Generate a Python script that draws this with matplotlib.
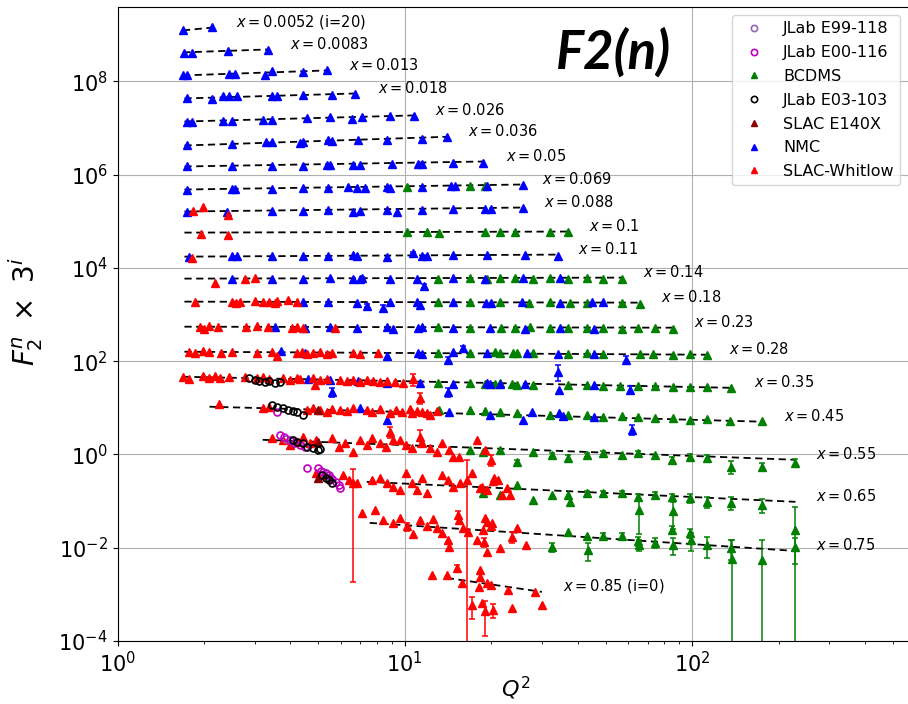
import numpy as np
import matplotlib
matplotlib.use("Agg")
import matplotlib.pyplot as plt
from matplotlib.lines import Line2D
from matplotlib.ticker import NullLocator

# bins in x, i = 0 .. 20 ; every bin is shifted by 3**i
x_bins = [0.85, 0.75, 0.65, 0.55, 0.45, 0.35, 0.28, 0.23, 0.18, 0.14, 0.11,
          0.1, 0.088, 0.069, 0.05, 0.036, 0.026, 0.018, 0.013, 0.0083, 0.0052]

# dashed curves: Q2 range and F2 at both ends (i = 0 .. 20)
fit_q2_lo = [14.0, 7.55, 7.37, 3.2, 2.09, 1.685, 1.71, 1.71, 1.71, 1.71, 1.71,
             1.71, 1.71, 1.71, 1.71, 1.71, 1.71, 1.71, 1.69, 1.69, 1.69]
fit_q2_hi = [30.0, 229, 229, 229, 177, 139, 114, 86, 66, 57, 34,
             37, 25.8, 25.5, 19.0, 14.0, 10.8, 6.8, 5.39, 3.38, 2.18]
fit_f2_lo = [0.00225, 0.01135, 0.0287, 0.0762, 0.130, 0.190, 0.218, 0.250, 0.287, 0.298, 0.294,
             0.321, 0.303, 0.299, 0.311, 0.292, 0.318, 0.331, 0.344, 0.357, 0.353]
fit_f2_hi = [0.00113, 0.00284, 0.0107, 0.0284, 0.062, 0.110, 0.188, 0.238, 0.273, 0.313, 0.325,
             0.338, 0.369, 0.383, 0.398, 0.449, 0.43, 0.424, 0.44, 0.414, 0.41]

# data rows: (i, Q2, F2) or (i, Q2, F2, dF2)
nmc = [
    (20, 1.69, 0.353), (20, 2.14, 0.41),
    (19, 1.71, 0.34), (19, 1.81, 0.34), (19, 2.42, 0.375), (19, 3.33, 0.394),
    (18, 1.69, 0.344), (18, 1.74, 0.344), (18, 2.45, 0.361), (18, 2.56, 0.361), (18, 3.25, 0.344),
    (18, 3.46, 0.418), (18, 4.41, 0.398), (18, 5.34, 0.439),
    (17, 1.75, 0.331), (17, 2.14, 0.316), (17, 2.32, 0.365), (17, 2.45, 0.365), (17, 2.6, 0.365),
    (17, 3.46, 0.365), (17, 3.6, 0.365), (17, 4.41, 0.402), (17, 5.56, 0.383), (17, 6.7, 0.422),
    (16, 1.75, 0.318), (16, 1.81, 0.318), (16, 2.32, 0.334), (16, 2.5, 0.334), (16, 3.2, 0.351),
    (16, 3.44, 0.351), (16, 4.55, 0.387), (16, 5.48, 0.406), (16, 6.55, 0.368), (16, 7.1, 0.406),
    (16, 8.86, 0.426), (16, 10.8, 0.426),
    (15, 1.75, 0.292), (15, 2.5, 0.321), (15, 3.3, 0.353), (15, 3.46, 0.353), (15, 4.31, 0.337),
    (15, 4.41, 0.353), (15, 5.4, 0.389), (15, 5.56, 0.371), (15, 6.85, 0.389), (15, 8.7, 0.389),
    (15, 11.5, 0.408), (15, 14.0, 0.449),
    (14, 1.75, 0.311), (14, 2.5, 0.311), (14, 3.46, 0.326), (14, 4.41, 0.326), (14, 5.34, 0.342),
    (14, 5.48, 0.342), (14, 6.6, 0.342), (14, 6.97, 0.342), (14, 9.0, 0.359), (14, 11.1, 0.359),
    (14, 11.5, 0.359), (14, 14.7, 0.377), (14, 18.7, 0.377),
    (13, 1.75, 0.299), (13, 2.5, 0.314), (13, 2.56, 0.314), (13, 3.46, 0.314), (13, 4.41, 0.33),
    (13, 5.4, 0.33), (13, 6.34, 0.346), (13, 6.8, 0.33), (13, 7.25, 0.33), (13, 8.7, 0.346),
    (13, 8.86, 0.33), (13, 11.5, 0.346), (13, 14.5, 0.363), (13, 14.9, 0.363), (13, 19.4, 0.363),
    (13, 25.7, 0.381),
    (12, 1.75, 0.303), (12, 2.4, 0.303), (12, 3.46, 0.318), (12, 4.41, 0.318), (12, 5.4, 0.334),
    (12, 6.6, 0.303), (12, 6.97, 0.318), (12, 8.7, 0.334), (12, 9.4, 0.303), (12, 11.5, 0.334),
    (12, 14.7, 0.35), (12, 19.0, 0.35), (12, 20.0, 0.35), (12, 25.7, 0.369),
    (10, 1.78, 0.294), (10, 2.5, 0.309), (10, 2.6, 0.309), (10, 3.46, 0.309), (10, 4.41, 0.309),
    (10, 5.4, 0.309), (10, 6.6, 0.325), (10, 6.8, 0.309), (10, 8.7, 0.294), (10, 10.7, 0.358, 0.02),
    (10, 11.5, 0.309), (10, 11.9, 0.309), (10, 14.7, 0.325), (10, 19.4, 0.325), (10, 26.2, 0.325),
    (10, 34.2, 0.309),
    (9, 2.5, 0.298), (9, 3.46, 0.298), (9, 4.41, 0.298), (9, 5.48, 0.313), (9, 6.6, 0.298),
    (9, 6.97, 0.298), (9, 7.1, 0.313, 0.015), (9, 8.86, 0.298), (9, 11.0, 0.298), (9, 11.7, 0.21, 0.02),
    (9, 14.7, 0.313), (9, 19.0, 0.298), (9, 25.7, 0.313), (9, 34.7, 0.313),
    (8, 4.41, 0.287), (8, 5.4, 0.287), (8, 6.8, 0.273), (8, 7.4, 0.236, 0.02), (8, 8.4, 0.213, 0.025),
    (8, 8.86, 0.287), (8, 11.0, 0.287), (8, 11.3, 0.248), (8, 14.7, 0.287), (8, 19.2, 0.273),
    (8, 20.0, 0.273), (8, 25.5, 0.287), (8, 34.7, 0.273), (8, 45.0, 0.287), (8, 49.0, 0.287),
    (7, 3.53, 0.25), (7, 4.48, 0.238), (7, 5.48, 0.25), (7, 6.8, 0.238), (7, 8.7, 0.25),
    (7, 9.07, 0.227), (7, 11.1, 0.238), (7, 11.5, 0.25), (7, 14.7, 0.238), (7, 19.8, 0.238),
    (7, 26.2, 0.227), (7, 34.7, 0.238), (7, 45.7, 0.227),
    (6, 3.72, 0.229), (6, 4.48, 0.208), (6, 8.7, 0.179), (6, 11.1, 0.208), (6, 11.5, 0.198),
    (6, 14.1, 0.147, 0.02), (6, 14.7, 0.218), (6, 15.9, 0.266, 0.03), (6, 19.4, 0.208),
    (6, 26.6, 0.208), (6, 34.0, 0.198), (6, 45.7, 0.198), (6, 59.0, 0.147, 0.03),
    (5, 4.59, 0.172), (5, 5.48, 0.164), (5, 5.6, 0.0906, 0.02), (5, 6.85, 0.157), (5, 8.7, 0.142),
    (5, 11.3, 0.142), (5, 14.1, 0.09, 0.02), (5, 14.7, 0.135), (5, 19.4, 0.142), (5, 19.8, 0.135),
    (5, 21.4, 0.135), (5, 26.2, 0.135), (5, 34.0, 0.244, 0.09), (5, 34.5, 0.10), (5, 45.7, 0.129),
    (5, 60.8, 0.10, 0.02),
    (4, 6.97, 0.124), (4, 8.7, 0.068), (4, 14.3, 0.101), (4, 19.8, 0.0875), (4, 25.7, 0.068),
    (4, 27.7, 0.101), (4, 34.5, 0.096), (4, 35.5, 0.082), (4, 45.7, 0.078), (4, 61.6, 0.0417, 0.01),
]

slac_whitlow = [
    (12, 1.83, 0.318), (12, 1.98, 0.386), (12, 2.42, 0.249),
    (11, 1.96, 0.293), (11, 2.42, 0.279),
    (10, 1.82, 0.28),
    (9, 2.18, 0.245), (9, 2.77, 0.298), (9, 3.0, 0.313),
    (8, 1.86, 0.287), (8, 2.5, 0.287), (8, 2.58, 0.273), (8, 2.66, 0.287), (8, 3.0, 0.301),
    (8, 3.2, 0.287), (8, 3.38, 0.287), (8, 3.53, 0.273), (8, 3.6, 0.301), (8, 3.91, 0.316), (8, 4.2, 0.287),
    (7, 1.93, 0.25), (7, 2.0, 0.227), (7, 2.09, 0.263), (7, 2.23, 0.25), (7, 2.81, 0.25),
    (7, 3.07, 0.263), (7, 3.33, 0.25), (7, 4.04, 0.238), (7, 4.2, 0.25), (7, 4.41, 0.238), (7, 5.7, 0.238),
    (6, 1.78, 0.218), (6, 1.86, 0.208), (6, 1.98, 0.229), (6, 2.09, 0.218), (6, 2.3, 0.208),
    (6, 2.5, 0.218), (6, 3.07, 0.208), (6, 3.46, 0.218), (6, 3.6, 0.179), (6, 4.2, 0.208),
    (6, 4.38, 0.218), (6, 4.55, 0.198), (6, 4.78, 0.208), (6, 5.06, 0.218), (6, 5.34, 0.198),
    (6, 5.6, 0.208), (6, 6.6, 0.208), (6, 6.97, 0.198), (6, 8.04, 0.208),
    (5, 1.685, 0.19), (5, 1.78, 0.172), (5, 1.98, 0.2), (5, 2.09, 0.181), (5, 2.18, 0.2),
    (5, 2.27, 0.181), (5, 2.45, 0.19), (5, 2.77, 0.19), (5, 3.05, 0.181), (5, 3.2, 0.19),
    (5, 3.38, 0.172), (5, 3.76, 0.181), (5, 3.97, 0.164), (5, 4.2, 0.181), (5, 4.31, 0.172),
    (5, 4.78, 0.181), (5, 4.86, 0.129, 0.02), (5, 5.06, 0.164), (5, 5.35, 0.172), (5, 5.94, 0.164),
    (5, 6.28, 0.157), (5, 6.59, 0.164), (5, 6.97, 0.149), (5, 7.37, 0.164), (5, 7.74, 0.157),
    (5, 8.18, 0.149), (5, 8.66, 0.157), (5, 9.23, 0.149), (5, 9.85, 0.142), (5, 10.66, 0.172, 0.05),
    (4, 2.26, 0.15), (4, 3.2, 0.124), (4, 3.38, 0.13), (4, 4.55, 0.112), (4, 4.78, 0.124),
    (4, 5.06, 0.112), (4, 5.34, 0.101), (4, 5.6, 0.118), (4, 5.94, 0.112), (4, 6.3, 0.106),
    (4, 6.6, 0.124), (4, 7.37, 0.112), (4, 7.7, 0.101), (4, 8.18, 0.118), (4, 8.86, 0.093),
    (4, 9.35, 0.112), (4, 9.8, 0.101), (4, 10.4, 0.118), (4, 10.6, 0.093), (4, 11.0, 0.106),
    (4, 11.3, 0.2, 0.05), (4, 11.5, 0.101), (4, 11.9, 0.096), (4, 12.2, 0.0875), (4, 12.9, 0.106),
    (3, 3.44, 0.084), (3, 3.76, 0.0762), (3, 3.97, 0.0596), (3, 4.2, 0.069), (3, 4.41, 0.0885),
    (3, 4.67, 0.0658), (3, 4.9, 0.0762), (3, 5.6, 0.084), (3, 5.9, 0.054), (3, 6.2, 0.065),
    (3, 6.6, 0.0422), (3, 6.97, 0.0762), (3, 7.37, 0.0596), (3, 7.7, 0.084), (3, 8.18, 0.0658),
    (3, 8.6, 0.054), (3, 8.86, 0.113, 0.03), (3, 9.1, 0.0762), (3, 9.6, 0.0762), (3, 10.1, 0.0596),
    (3, 10.6, 0.0515), (3, 11.3, 0.0885, 0.035), (3, 11.5, 0.066), (3, 12.2, 0.0515), (3, 12.9, 0.0422),
    (3, 13.5, 0.066), (3, 14.3, 0.0466), (3, 14.7, 0.0329), (3, 15.5, 0.0329), (3, 17.8, 0.0762),
    (3, 19.0, 0.0466), (3, 20.0, 0.0284, 0.008),
    (2, 4.9, 0.0448), (2, 5.2, 0.0405), (2, 5.5, 0.035), (2, 6.1, 0.0405), (2, 6.4, 0.0317),
    (2, 6.6, 0.0265, 0.0263), (2, 6.8, 0.0274), (2, 7.7, 0.0317), (2, 8.2, 0.035), (2, 8.7, 0.0274),
    (2, 9.1, 0.0224), (2, 9.6, 0.0193), (2, 10.1, 0.0448), (2, 10.6, 0.0274), (2, 11.0, 0.0193),
    (2, 11.5, 0.035), (2, 11.9, 0.0167), (2, 13.5, 0.0405), (2, 14.1, 0.0317), (2, 14.7, 0.0224),
    (2, 15.6, 0.0274), (2, 16.5, 0.0317, 0.053), (2, 17.2, 0.0448), (2, 18.2, 0.0215), (2, 18.5, 0.0227),
    (2, 19.3, 0.0193), (2, 20.3, 0.03), (2, 20.5, 0.035), (2, 21.1, 0.0317), (2, 21.8, 0.0151),
    (2, 22.6, 0.0213), (2, 23.2, 0.0151),
    (1, 7.1, 0.0186), (1, 7.85, 0.0216), (1, 8.4, 0.0132), (1, 9.1, 0.0115), (1, 9.6, 0.0145),
    (1, 10.2, 0.0095, 0.002), (1, 10.7, 0.0065), (1, 11.3, 0.0132), (1, 11.9, 0.0095), (1, 12.5, 0.014),
    (1, 12.9, 0.009), (1, 13.5, 0.0068), (1, 14.1, 0.0049), (1, 14.3, 0.0035), (1, 15.3, 0.017, 0.003),
    (1, 15.4, 0.013), (1, 15.9, 0.0089), (1, 16.6, 0.0073), (1, 17.8, 0.0049), (1, 18.7, 0.008),
    (1, 18.8, 0.0045, 0.001), (1, 19.0, 0.0145), (1, 19.3, 0.0027), (1, 19.4, 0.0117), (1, 20.0, 0.0095),
    (1, 20.1, 0.0113), (1, 21.4, 0.0033), (1, 23.6, 0.0057, 0.0015), (1, 24.5, 0.0089), (1, 26.4, 0.0038),
    (0, 12.4, 0.0026), (0, 14.0, 0.0026), (0, 15.2, 0.0037, 0.0005), (0, 15.8, 0.00176),
    (0, 17.1, 0.00059, 0.0003), (0, 18.2, 0.0033), (0, 18.3, 0.0024), (0, 18.1, 0.00144),
    (0, 18.5, 0.00065), (0, 19.0, 0.00043, 0.0003), (0, 19.3, 0.00176), (0, 20.0, 0.0016),
    (0, 20.2, 0.00046, 0.00015), (0, 22.9, 0.00124), (0, 23.7, 0.00051), (0, 28.3, 0.00113),
    (0, 30.0, 0.00059),
]

bcdms = [
    (13, 10.2, 0.346), (13, 16.8, 0.363), (13, 19.0, 0.363),
    (11, 10.2, 0.338), (11, 11.9, 0.338), (11, 13.2, 0.321), (11, 19.0, 0.338), (11, 21.4, 0.338),
    (11, 24.2, 0.338), (11, 32.0, 0.338), (11, 37.0, 0.338),
    (9, 13.0, 0.298), (9, 16.8, 0.313), (9, 19.4, 0.298), (9, 21.4, 0.313), (9, 24.2, 0.313),
    (9, 28.0, 0.298), (9, 32.0, 0.313), (9, 37.0, 0.298), (9, 43.0, 0.313), (9, 49.0, 0.298), (9, 57.0, 0.298),
    (8, 13.0, 0.287), (8, 16.8, 0.287), (8, 21.4, 0.287), (8, 27.0, 0.273), (8, 32.0, 0.287),
    (8, 37.6, 0.273), (8, 43.0, 0.273), (8, 57.0, 0.273), (8, 66.0, 0.26),
    (7, 13.0, 0.25), (7, 16.8, 0.238), (7, 21.7, 0.238), (7, 24.2, 0.238), (7, 27.2, 0.25),
    (7, 32.0, 0.238), (7, 37.0, 0.238), (7, 43.0, 0.238), (7, 49.0, 0.238), (7, 57.0, 0.227),
    (7, 65.0, 0.238), (7, 74.0, 0.238), (7, 86.0, 0.227),
    (6, 13.0, 0.208), (6, 16.8, 0.208), (6, 20.6, 0.218), (6, 21.4, 0.208), (6, 23.8, 0.208),
    (6, 24.6, 0.208), (6, 28.0, 0.208), (6, 37.0, 0.198), (6, 43.0, 0.208), (6, 49.0, 0.198),
    (6, 66.0, 0.198), (6, 73.0, 0.198), (6, 86.0, 0.188), (6, 98.0, 0.198), (6, 113.0, 0.188),
    (5, 13.0, 0.142), (5, 16.8, 0.142), (5, 19.0, 0.135), (5, 20.6, 0.135), (5, 21.4, 0.142),
    (5, 23.7, 0.135), (5, 24.5, 0.129), (5, 28.0, 0.129), (5, 37.0, 0.129), (5, 43.0, 0.129),
    (5, 49.0, 0.122), (5, 56.0, 0.122), (5, 65.0, 0.122), (5, 74.0, 0.122), (5, 86.0, 0.116),
    (5, 98.0, 0.116), (5, 113.0, 0.116), (5, 137.0, 0.11),
    (4, 13.2, 0.112), (4, 16.8, 0.112), (4, 19.0, 0.106), (4, 21.4, 0.101), (4, 24.5, 0.096),
    (4, 32.0, 0.0875), (4, 37.0, 0.0875), (4, 43.0, 0.0875), (4, 49.0, 0.078), (4, 57.0, 0.082),
    (4, 65.0, 0.078), (4, 74.0, 0.0753), (4, 86.0, 0.0753), (4, 98.0, 0.068), (4, 113.0, 0.072),
    (4, 136.0, 0.065), (4, 175.0, 0.065),
    (3, 16.8, 0.0466), (3, 18.7, 0.0422), (3, 21.4, 0.0466), (3, 24.5, 0.0257, 0.003), (3, 28.0, 0.0422),
    (3, 32.5, 0.0363, 0.004), (3, 37.0, 0.0313, 0.004), (3, 43.0, 0.0363, 0.004), (3, 49.0, 0.0401, 0.004),
    (3, 57.0, 0.0363), (3, 65.0, 0.0401, 0.004), (3, 74.0, 0.0363), (3, 85.0, 0.0284, 0.004),
    (3, 98.0, 0.0329, 0.004), (3, 113.0, 0.0313, 0.004), (3, 137.0, 0.0201, 0.006),
    (3, 175.0, 0.0201, 0.004), (3, 229.0, 0.0245, 0.005),
    (2, 18.7, 0.0167), (2, 21.4, 0.0151), (2, 24.5, 0.0248), (2, 28.0, 0.0118), (2, 32.5, 0.0151),
    (2, 37.0, 0.0151), (2, 37.5, 0.0107), (2, 43.0, 0.0167, 0.002), (2, 49.0, 0.0167, 0.002),
    (2, 57.0, 0.0167, 0.002), (2, 65.0, 0.0137, 0.002), (2, 65.5, 0.0072, 0.005), (2, 74.0, 0.0151, 0.002),
    (2, 85.0, 0.0137, 0.002), (2, 86.0, 0.0068, 0.004), (2, 98.0, 0.0130, 0.003), (2, 113.0, 0.0107, 0.003),
    (2, 137.0, 0.0103, 0.003), (2, 175.0, 0.0092, 0.003), (2, 229.0, 0.0027, 0.0055),
    (1, 32.5, 0.0035, 0.0008), (1, 37.0, 0.0073), (1, 43.0, 0.0058), (1, 43.5, 0.003, 0.0013),
    (1, 49.0, 0.006, 0.001), (1, 57.0, 0.006, 0.001), (1, 65.0, 0.0047, 0.001), (1, 65.5, 0.0038, 0.001),
    (1, 74.0, 0.0043, 0.001), (1, 85.0, 0.008, 0.0015), (1, 86.0, 0.0038, 0.0015), (1, 98.0, 0.007, 0.0015),
    (1, 99.0, 0.0049, 0.002), (1, 113.0, 0.0038, 0.0018), (1, 137.0, 0.0033, 0.0015),
    (1, 137.5, 0.0019, 0.003), (1, 175.0, 0.0018, 0.003), (1, 229.0, 0.0035, 0.002),
]

slac_e140x = [(4, 5.0, 0.112), (3, 5.0, 0.068), (2, 5.0, 0.035)]

jlab_e03103 = [
    (5, 2.88, 0.181), (5, 3.0, 0.164), (5, 3.12, 0.157), (5, 3.25, 0.149), (5, 3.38, 0.157),
    (5, 3.52, 0.142), (5, 3.67, 0.149),
    (4, 3.46, 0.143), (4, 3.6, 0.13), (4, 3.76, 0.124), (4, 3.91, 0.112), (4, 4.07, 0.106),
    (4, 4.2, 0.101), (4, 4.41, 0.0875),
    (3, 4.07, 0.0762), (3, 4.2, 0.069), (3, 4.41, 0.066), (3, 4.55, 0.054), (3, 4.78, 0.0515),
    (3, 4.98, 0.0466), (3, 5.06, 0.049),
    (2, 5.15, 0.0405), (2, 5.3, 0.035), (2, 5.45, 0.0317), (2, 5.6, 0.0274),
]

jlab_e00116 = [
    (4, 3.6, 0.101),
    (3, 3.67, 0.098), (3, 3.81, 0.0885), (3, 3.97, 0.0762), (3, 4.13, 0.066), (3, 4.31, 0.0596),
    (3, 4.48, 0.054),
    (2, 4.55, 0.0573), (2, 5.0, 0.0573), (2, 5.1, 0.05), (2, 5.3, 0.045), (2, 5.45, 0.04),
    (2, 5.6, 0.0333), (2, 5.75, 0.028), (2, 5.9, 0.024), (2, 5.94, 0.0213),
]

jlab_e99118 = [(3, 3.85, 0.08), (3, 4.05, 0.072), (2, 5.2, 0.046), (2, 5.5, 0.036)]


def unpack(rows):
    i = np.array([r[0] for r in rows])
    q2 = np.array([r[1] for r in rows])
    f2 = np.array([r[2] for r in rows])
    err = np.array([r[3] if len(r) > 3 else 0.0 for r in rows])
    scale = 3.0 ** i
    return q2, f2 * scale, err * scale


fig = plt.figure(figsize=(9.08, 7.04), dpi=100)
ax = fig.add_axes([117.5 / 908, 63 / 704, 796.5 / 908, 634 / 704])
ax.set_xscale('log')
ax.set_yscale('log')

# dashed lines + labels
for i in range(len(x_bins)):
    s = 3.0 ** i
    ax.plot([fit_q2_lo[i], fit_q2_hi[i]], [fit_f2_lo[i] * s, fit_f2_hi[i] * s],
            ls='--', color='black', lw=1.3, dashes=(4, 2.5), zorder=2)
    txt = "$x={:g}$".format(x_bins[i])
    if i == 0:
        txt += " (i=0)"
    elif i == 20:
        txt += " (i=20)"
    ax.annotate(txt, xy=(fit_q2_hi[i], fit_f2_hi[i] * s), xytext=(15, 4),
                textcoords='offset points', ha='left', va='center', fontsize=10.5)

tri_sets = [(bcdms, 'green'), (nmc, 'blue'), (slac_whitlow, 'red'), (slac_e140x, '#8b0000')]
for rows, col in tri_sets:
    q2, y, e = unpack(rows)
    m = e > 0
    ax.errorbar(q2[m], y[m], yerr=e[m], fmt='none', ecolor=col, elinewidth=1.1,
                capsize=2.5, capthick=1.1, zorder=3)
    ax.plot(q2, y, ls='none', marker='^', ms=5.8, color=col, zorder=4)

circ_sets = [(jlab_e99118, '#9467bd'), (jlab_e00116, 'm'), (jlab_e03103, 'black')]
for rows, col in circ_sets:
    q2, y, e = unpack(rows)
    ax.plot(q2, y, ls='none', marker='o', ms=5, mfc='none', mec=col, mew=1.2, zorder=5)

ax.set_xlim(1, 592)
ax.set_ylim(1e-4, 3.9e9)
ax.set_yticks([1e-4, 1e-2, 1e0, 1e2, 1e4, 1e6, 1e8])
ax.yaxis.set_minor_locator(NullLocator())
ax.tick_params(labelsize=15)
ax.grid(True, which='major', color='#b0b0b0', lw=0.8)
ax.set_axisbelow(True)

ax.set_xlabel(r'$Q^2$', fontsize=16)
ax.xaxis.set_label_coords(0.5, -0.053)
ax.set_ylabel(r'$F_2^n\ \times\ 3^i$', fontsize=20)
ax.yaxis.set_label_coords(-0.091, 0.52)

leg_items = [('JLab E99-118', 'o', '#9467bd'), ('JLab E00-116', 'o', 'm'),
             ('BCDMS', '^', 'green'), ('JLab E03-103', 'o', 'black'),
             ('SLAC E140X', '^', '#8b0000'), ('NMC', '^', 'blue'),
             ('SLAC-Whitlow', '^', 'red')]
handles = []
for name, mk, col in leg_items:
    if mk == 'o':
        h = Line2D([], [], ls='none', marker='o', ms=4.5, mfc='none', mec=col, mew=1.2, label=name)
    else:
        h = Line2D([], [], ls='none', marker='^', ms=4.5, color=col, label=name)
    handles.append(h)
ax.legend(handles=handles, loc='upper right', fontsize=11.5, labelspacing=0.55,
          bbox_to_anchor=(0.9925, 1.0))

fig.text(556 / 908, 1 - 69 / 704, 'F2(n)', fontfamily='Lato', fontweight='bold',
         fontstyle='italic', fontsize=38, ha='left', va='baseline')

fig.savefig('out.png', dpi=100)
